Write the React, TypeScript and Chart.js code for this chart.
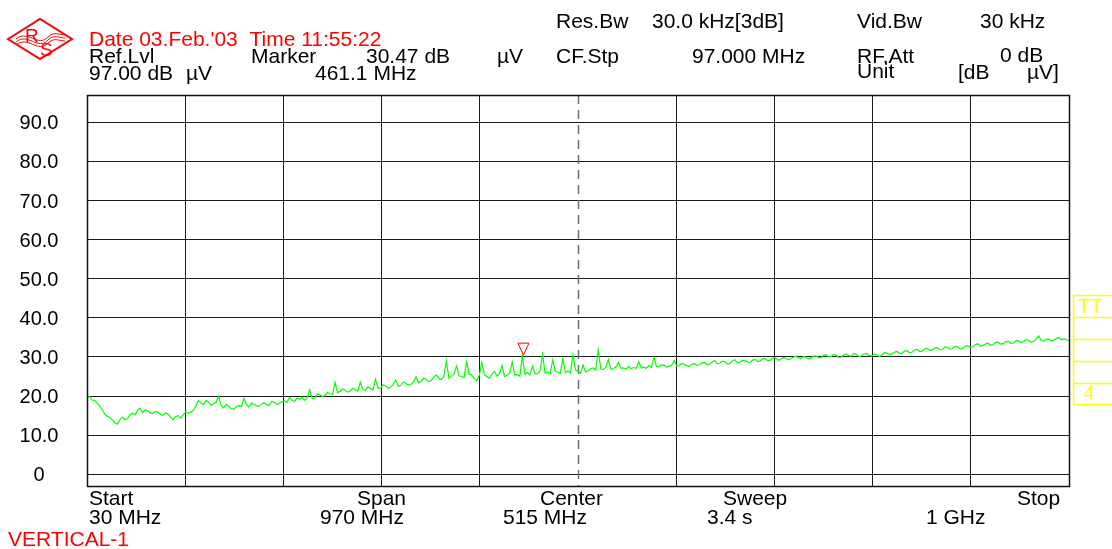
import React, { useEffect, useRef } from "react";
import { Chart, registerables } from "chart.js";

Chart.register(...registerables);

// ---- data ----
const startMHz = 30;
const stopMHz = 1000;
const stepMHz = 2.5;
const centerMHz = 515;

// trace level in dBµV, one value every 2.5 MHz from 30 MHz to 1000 MHz (20 values per row = 50 MHz)
const levels: number[] = [
  19.6, 19.9, 19.0, 18.9, 18.2, 17.4, 16.5, 15.4, 14.8, 14.5, 13.9, 13.2, 12.8, 13.9, 14.6, 14.0, 14.2, 15.3, 15.6, 15.2,
  16.4, 16.9, 15.8, 16.5, 16.2, 15.7, 15.5, 16.1, 15.9, 15.3, 15.1, 15.7, 15.4, 14.6, 13.9, 14.8, 15.0, 14.4, 15.2, 15.9,
  15.6, 15.9, 16.3, 17.4, 18.9, 18.2, 17.8, 18.9, 18.5, 17.6, 18.1, 18.4, 20.0, 17.6, 17.0, 17.9, 17.4, 16.8, 16.6, 17.3,
  17.6, 17.3, 19.4, 17.8, 17.2, 18.2, 17.9, 17.5, 17.4, 18.0, 18.3, 17.8, 17.6, 18.6, 18.4, 17.9, 18.1, 18.6, 18.8, 18.4,
  19.6, 18.9, 18.6, 19.5, 19.2, 19.8, 18.9, 19.6, 21.6, 19.4, 19.5, 20.6, 20.3, 19.9, 20.1, 20.9, 20.6, 20.4, 23.5, 20.9,
  21.2, 21.8, 21.5, 21.0, 21.3, 22.0, 21.6, 21.2, 23.6, 21.7, 21.4, 22.4, 21.9, 21.6, 24.3, 22.0, 22.1, 22.9, 22.6, 22.0,
  22.3, 22.9, 24.1, 22.5, 22.7, 23.6, 23.2, 22.8, 23.0, 23.7, 24.9, 23.4, 23.8, 24.6, 24.3, 23.7, 24.0, 24.8, 25.4, 24.5,
  24.2, 25.0, 29.0, 24.6, 25.1, 25.6, 27.7, 25.2, 25.0, 24.7, 28.8, 25.6, 25.4, 24.5, 23.9, 25.3, 28.6, 25.5, 25.0, 24.6,
  25.6, 26.3, 25.1, 25.7, 27.8, 25.0, 25.3, 25.9, 28.7, 25.4, 25.5, 25.1, 30.4, 25.6, 26.0, 25.4, 27.6, 25.7, 25.8, 26.4,
  30.6, 25.9, 26.2, 25.7, 29.2, 26.4, 26.1, 25.8, 29.6, 26.0, 26.4, 25.9, 30.6, 26.7, 26.3, 25.9, 27.9, 26.1, 26.5, 27.0,
  27.2, 26.6, 31.8, 26.9, 26.8, 27.4, 29.4, 26.8, 27.0, 27.5, 28.6, 27.1, 27.2, 26.9, 27.6, 27.0, 27.3, 27.1, 28.8, 27.2,
  27.4, 27.1, 27.8, 27.3, 30.0, 27.6, 27.5, 28.0, 27.9, 27.4, 27.6, 27.9, 29.0, 27.7, 27.8, 28.3, 28.1, 27.7, 27.6, 28.1,
  28.3, 27.9, 28.0, 28.5, 28.6, 28.0, 28.2, 28.7, 29.1, 28.3, 28.4, 28.9, 28.8, 28.2, 28.3, 29.0, 29.3, 28.5, 28.7, 29.1,
  29.0, 28.7, 28.6, 29.2, 29.4, 28.8, 29.0, 29.5, 29.6, 29.0, 29.2, 29.7, 29.8, 29.2, 29.3, 29.9, 29.7, 29.3, 29.5, 29.9,
  30.2, 29.8, 29.6, 30.1, 30.0, 29.5, 29.7, 30.2, 30.3, 29.9, 29.8, 30.4, 30.6, 30.0, 30.1, 30.6, 30.4, 29.9, 30.0, 30.5,
  30.8, 30.3, 30.2, 30.9, 30.7, 30.1, 30.3, 30.8, 30.9, 30.4, 30.2, 30.7, 30.6, 30.1, 30.4, 31.1, 31.0, 30.6, 30.8, 31.2,
  31.4, 31.0, 30.9, 31.5, 31.6, 31.1, 31.2, 31.8, 32.0, 31.4, 31.5, 32.1, 32.2, 31.7, 31.8, 32.3, 32.4, 31.8, 31.9, 32.6,
  32.5, 32.0, 32.1, 32.7, 32.6, 32.1, 32.2, 32.8, 32.9, 32.4, 32.6, 33.1, 33.4, 32.8, 32.9, 33.3, 33.5, 33.0, 33.2, 33.7,
  33.8, 33.3, 33.4, 33.9, 34.0, 33.5, 33.6, 34.1, 34.2, 33.7, 33.9, 34.4, 34.2, 33.8, 34.0, 34.5, 35.4, 34.2, 34.1, 34.5,
  34.6, 34.1, 34.3, 34.7, 35.0, 34.4, 34.6, 34.4, 34.2,
];

const xGridMHz = [30, 127, 224, 321, 418, 515, 612, 709, 806, 903, 1000];
const yGridDb = [0, 10, 20, 30, 40, 50, 60, 70, 80, 90];
const yTickLabels = ["0", "10.0", "20.0", "30.0", "40.0", "50.0", "60.0", "70.0", "80.0", "90.0"];
const yMin = -3;
const yMax = 97;

const markerMHz = 461.1;
const markerDb = 30.47;

const headerBlack: [string, number, number][] = [
  ["Res.Bw", 556, 28],
  ["30.0 kHz[3dB]", 652, 28],
  ["Vid.Bw", 857, 28],
  ["30 kHz", 980, 28],
  ["Ref.Lvl", 89, 63],
  ["Marker", 251, 63],
  ["30.47 dB", 366, 63],
  ["\u00b5V", 497, 63],
  ["CF.Stp", 556, 63],
  ["97.000 MHz", 692, 63],
  ["RF.Att", 857, 63],
  ["0 dB", 1000, 62],
  ["Unit", 857, 78],
  ["[dB", 958, 79],
  ["\u00b5V]", 1027, 79],
  ["97.00 dB", 89, 80],
  ["\u00b5V", 186, 80],
  ["461.1 MHz", 315, 80],
];
const footerBlack: [string, number, number][] = [
  ["Start", 89, 505],
  ["30 MHz", 89, 524],
  ["Span", 357, 505],
  ["970 MHz", 320, 524],
  ["Center", 540, 505],
  ["515 MHz", 503, 524],
  ["Sweep", 723, 505],
  ["3.4 s", 707, 524],
  ["Stop", 1017, 505],
  ["1 GHz", 926, 524],
];
const dateText = "Date 03.Feb.'03  Time 11:55:22";
const traceName = "VERTICAL-1";

const FONT = '21px "Liberation Sans", Arial, sans-serif';
const TICK_FONT = '20px "Liberation Sans", Arial, sans-serif';
const RED = "#ff0000";
const YELLOW = "#ffff00";

function drawLogo(ctx: CanvasRenderingContext2D) {
  ctx.save();
  ctx.strokeStyle = RED;
  ctx.fillStyle = RED;
  ctx.lineWidth = 2;
  ctx.beginPath();
  ctx.moveTo(8, 39);
  ctx.lineTo(40, 19);
  ctx.lineTo(72, 39);
  ctx.lineTo(40, 59);
  ctx.closePath();
  ctx.stroke();
  ctx.font = '19px "Liberation Sans", Arial, sans-serif';
  ctx.fillText("R", 25, 42);
  ctx.fillText("S", 40, 56);
  ctx.lineWidth = 1;
  for (let i = 0; i < 3; i++) {
    const o = i * 3;
    ctx.beginPath();
    ctx.moveTo(16, 39 + o);
    ctx.bezierCurveTo(28, 29 + o, 38, 48 + o, 48, 37 + o);
    ctx.bezierCurveTo(54, 31 + o, 60, 35 + o, 65, 35 + o);
    ctx.stroke();
  }
  ctx.restore();
}

const overlayPlugin = {
  id: "overlay",
  beforeDatasetsDraw(chart: any) {
    const { ctx, chartArea: a, scales } = chart;
    ctx.save();
    const cx = Math.round(scales.x.getPixelForValue(centerMHz)) + 0.5;
    ctx.strokeStyle = "#6e6e6e";
    ctx.lineWidth = 1.5;
    ctx.setLineDash([9, 6]);
    ctx.beginPath();
    ctx.moveTo(cx, a.top);
    ctx.lineTo(cx, a.bottom);
    ctx.stroke();
    ctx.setLineDash([]);
    ctx.restore();
  },
  afterDraw(chart: any) {
    const { ctx, chartArea: a, scales } = chart;
    const xs = scales.x;
    const ys = scales.y;
    ctx.save();
    // frame
    ctx.strokeStyle = "#111";
    ctx.lineWidth = 1.5;
    ctx.strokeRect(Math.round(a.left) + 0.5, Math.round(a.top) + 0.5, Math.round(a.right - a.left), Math.round(a.bottom - a.top));

    // marker
    const mx = xs.getPixelForValue(markerMHz);
    const my = ys.getPixelForValue(markerDb);
    ctx.strokeStyle = RED;
    ctx.lineWidth = 1;
    ctx.beginPath();
    ctx.moveTo(mx - 5.5, my - 12);
    ctx.lineTo(mx + 5.5, my - 12);
    ctx.lineTo(mx, my);
    ctx.closePath();
    ctx.stroke();

    // y labels
    ctx.font = TICK_FONT;
    ctx.fillStyle = "#000";
    ctx.textAlign = "center";
    ctx.textBaseline = "alphabetic";
    yGridDb.forEach((v, i) => {
      ctx.fillText(yTickLabels[i], 39, ys.getPixelForValue(v) + 7);
    });

    // header / footer text
    ctx.font = FONT;
    ctx.textAlign = "left";
    headerBlack.forEach(([t, x, y]) => ctx.fillText(t, x, y));
    footerBlack.forEach(([t, x, y]) => ctx.fillText(t, x, y));
    ctx.fillStyle = RED;
    ctx.fillText(dateText, 89, 46);
    ctx.fillText(traceName, 8, 546);

    // yellow side boxes
    ctx.strokeStyle = YELLOW;
    ctx.lineWidth = 1.5;
    ctx.beginPath();
    ctx.moveTo(1073.5, 295);
    ctx.lineTo(1073.5, 404.5);
    [295.5, 317.5, 339.5, 361.5, 383.5, 404.5].forEach((y) => {
      ctx.moveTo(1073, y);
      ctx.lineTo(1112, y);
    });
    ctx.stroke();
    ctx.fillStyle = YELLOW;
    ctx.font = TICK_FONT;
    ctx.fillText("TT", 1078, 313);
    ctx.font = '18px "Liberation Sans", Arial, sans-serif';
    ctx.fillText("4", 1084, 399);

    drawLogo(ctx);
    ctx.restore();
  },
};

export default function App() {
  const ref = useRef<HTMLCanvasElement | null>(null);

  useEffect(() => {
    if (!ref.current) return;
    const points = levels.map((v, i) => ({ x: startMHz + i * stepMHz, y: v }));
    const chart = new Chart(ref.current, {
      type: "line",
      data: {
        datasets: [
          {
            data: points,
            borderColor: "#00ff00",
            borderWidth: 1.2,
            pointRadius: 0,
            tension: 0,
            fill: false,
          },
        ],
      },
      options: {
        animation: false,
        responsive: false,
        maintainAspectRatio: false,
        layout: { padding: { left: 87, top: 95, right: 43, bottom: 63 } },
        plugins: { legend: { display: false }, tooltip: { enabled: false } },
        scales: {
          x: {
            type: "linear",
            min: startMHz,
            max: stopMHz,
            ticks: { display: false },
            border: { display: false },
            grid: {
              drawTicks: false,
              lineWidth: 1,
              color: (c: any) => (c.tick && c.tick.value === centerMHz ? "rgba(0,0,0,0)" : "#1a1a1a"),
            },
            afterBuildTicks: (s: any) => {
              s.ticks = xGridMHz.map((v) => ({ value: v }));
            },
          },
          y: {
            type: "linear",
            min: yMin,
            max: yMax,
            ticks: { display: false },
            border: { display: false },
            grid: { drawTicks: false, lineWidth: 1, color: "#1a1a1a" },
            afterBuildTicks: (s: any) => {
              s.ticks = yGridDb.map((v) => ({ value: v }));
            },
          },
        },
      },
      plugins: [overlayPlugin],
    });
    return () => chart.destroy();
  }, []);

  return (
    <div style={{ position: "fixed", left: 0, top: 0, width: 1112, height: 549, background: "#fff" }}>
      <canvas ref={ref} width={1112} height={549} style={{ width: 1112, height: 549 }} />
    </div>
  );
}
